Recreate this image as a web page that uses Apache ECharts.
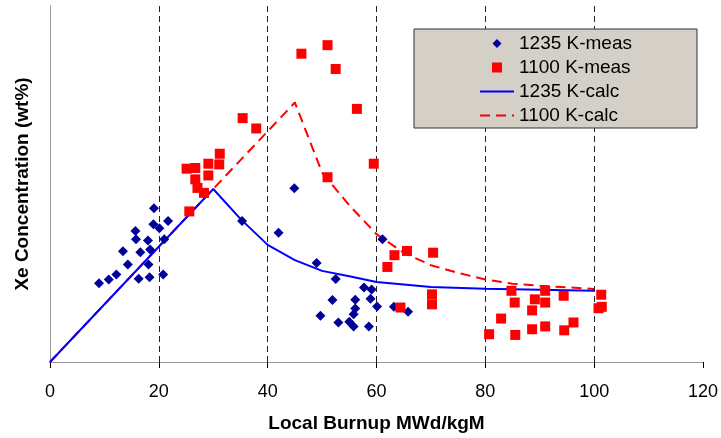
<!DOCTYPE html>
<html>
<head>
<meta charset="utf-8">
<script src="https://cdn.jsdelivr.net/npm/echarts@6/dist/echarts.min.js"></script>
<style>html,body{margin:0;padding:0;background:#fff;}#c{width:721px;height:438px;}</style>
</head>
<body>
<div id="c"></div>
<script>
// Measured points, 1235 K (x = local burnup MWd/kgM, y = relative Xe concentration)
const meas1235 = [
  [9.0,22.1],[10.8,23.2],[12.2,24.6],[14.3,27.4],[13.4,31.1],[15.7,36.8],[15.8,34.5],
  [16.6,30.8],[18.0,34.1],[18.4,31.6],[18.1,27.4],[16.3,23.4],[18.3,23.8],[19.1,43.2],
  [19.0,38.7],[20.1,37.6],[21.7,39.6],[21.0,34.5],[20.8,24.6],[35.3,39.6],[42.0,36.3],
  [44.9,48.8],[61.1,34.5],[49.0,27.8],[52.5,23.3],[57.7,20.9],[59.1,20.4],[51.9,17.4],
  [56.1,17.5],[58.9,17.8],[60.1,15.6],[56.1,15.0],[55.8,13.4],[49.7,13.0],[53.0,11.1],
  [55.0,11.3],[55.8,10.0],[58.6,10.0],[63.2,15.5],[65.8,14.1]
];
// Measured points, 1100 K
const meas1100 = [
  [25.6,42.3],[25.1,54.3],[26.7,54.5],[26.7,51.3],[27.1,48.9],[28.3,47.5],[29.1,55.7],
  [29.1,52.4],[31.2,58.5],[31.1,55.5],[35.4,68.5],[37.9,65.6],[46.2,86.6],[51.0,89.0],
  [52.5,82.3],[56.4,71.1],[59.5,55.7],[51.0,51.9],[62.0,26.7],[63.3,30.0],[65.6,31.2],
  [70.4,30.7],[64.4,15.3],[70.2,19.0],[70.2,16.2],[84.8,20.0],[85.4,16.7],[89.1,17.6],
  [91.0,20.0],[91.0,16.7],[88.6,14.5],[94.4,18.6],[101.3,18.9],[101.4,15.5],[100.8,15.1],
  [82.9,12.2],[80.7,7.8],[85.5,7.6],[88.6,9.2],[91.0,10.0],[94.5,8.9],[96.2,11.1]
];
// Calculated curves
const calc1235 = [[0,0],[30,48.6],[35,40.2],[40,32.9],[45,28.6],[50,25.6],[55,24.1],[60,22.5],[70,21.1],[80,20.6],[90,20.3],[100,20.0]];
const calc1100 = [[0,0],[45,72.9],[50,53.2],[55,44.0],[60,35.9],[65,30.7],[70,27.2],[75,25.0],[80,23.2],[85,22.0],[90,21.4],[95,21.0],[100,20.5]];
const xTicks = [0,20,40,60,80,100,120];
const legendNames = ['1235 K-meas','1100 K-meas','1235 K-calc','1100 K-calc'];

// legend icons padded inside a 34x10 box so they are not stretched
const ICON_DIAMOND = 'path://M0,0L0,0M34,10L34,10M12.5,5L17,0.5L21.5,5L17,9.5Z';
const ICON_SQUARE = 'path://M0,0L0,0M34,10L34,10M12,0L22,0L22,10L12,10Z';

const FONT = '"Liberation Sans", Arial, sans-serif';
const chart = echarts.init(document.getElementById('c'), null, {renderer:'canvas'});
chart.setOption({
  backgroundColor:'#ffffff',
  animation:false,
  textStyle:{fontFamily:FONT},
  grid:{left:50, right:14, top:6, bottom:75, containLabel:false},
  legend:{
    data:[
      {name:legendNames[0], icon:ICON_DIAMOND},
      {name:legendNames[1], icon:ICON_SQUARE},
      {name:legendNames[2], itemStyle:{color:'rgba(0,0,0,0)', borderWidth:0}},
      {name:legendNames[3], itemStyle:{color:'rgba(0,0,0,0)', borderWidth:0}}
    ],
    orient:'vertical',
    left:414, top:29,
    symbolKeepAspect:false,
    backgroundColor:'#D4D0C8',
    borderColor:'#333', borderWidth:1,
    padding:[5,65,3,65],
    itemWidth:34, itemHeight:10, itemGap:5,
    textStyle:{fontFamily:FONT, fontSize:19, color:'#000'}
  },
  xAxis:[{
    type:'value', min:xTicks[0], max:xTicks[xTicks.length-1], interval:20,
    name:'Local Burnup MWd/kgM', nameLocation:'middle', nameGap:52,
    nameTextStyle:{fontFamily:FONT, fontSize:19, fontWeight:'bold', color:'#000'},
    axisLine:{show:true, lineStyle:{color:'#000', width:1}},
    axisTick:{show:true, length:6, lineStyle:{color:'#000'}},
    axisLabel:{fontFamily:FONT, fontSize:18, color:'#000', margin:21},
    splitLine:{show:true, showMinLine:false, showMaxLine:false, lineStyle:{color:'#222', width:1, type:[6,4]}}
  },{
    type:'value', position:'top', min:0, max:1,
    axisLine:{show:true, lineStyle:{color:'#999'}},
    axisTick:{show:false}, axisLabel:{show:false}, splitLine:{show:false}
  }],
  yAxis:[{
    type:'value', min:0, max:100,
    name:'Xe Concentration (wt%)', nameLocation:'middle', nameGap:18,
    nameTextStyle:{fontFamily:FONT, fontSize:19, fontWeight:'bold', color:'#000'},
    axisLine:{show:true, lineStyle:{color:'#888', type:[6,4]}},
    axisTick:{show:false}, axisLabel:{show:false}, splitLine:{show:false}
  },{
    type:'value', position:'right', min:0, max:1,
    axisLine:{show:true, lineStyle:{color:'#999'}},
    axisTick:{show:false}, axisLabel:{show:false}, splitLine:{show:false}
  }],
  series:[
    {name:legendNames[3], type:'line', data:calc1100, symbol:'none', z:2,
     lineStyle:{color:'#FF0000', width:2, type:[10,6]}, itemStyle:{color:'#FF0000'}},
    {name:legendNames[2], type:'line', data:calc1235, symbol:'none', z:3,
     lineStyle:{color:'#0000FF', width:2}, itemStyle:{color:'#0000FF'}},
    {name:legendNames[0], type:'scatter', data:meas1235, symbol:'diamond', symbolSize:10, z:4,
     itemStyle:{color:'#000099', opacity:1}},
    {name:legendNames[1], type:'scatter', data:meas1100, symbol:'rect', symbolSize:10, z:5,
     itemStyle:{color:'#FF0000', opacity:1}}
  ]
});
</script>
</body>
</html>
